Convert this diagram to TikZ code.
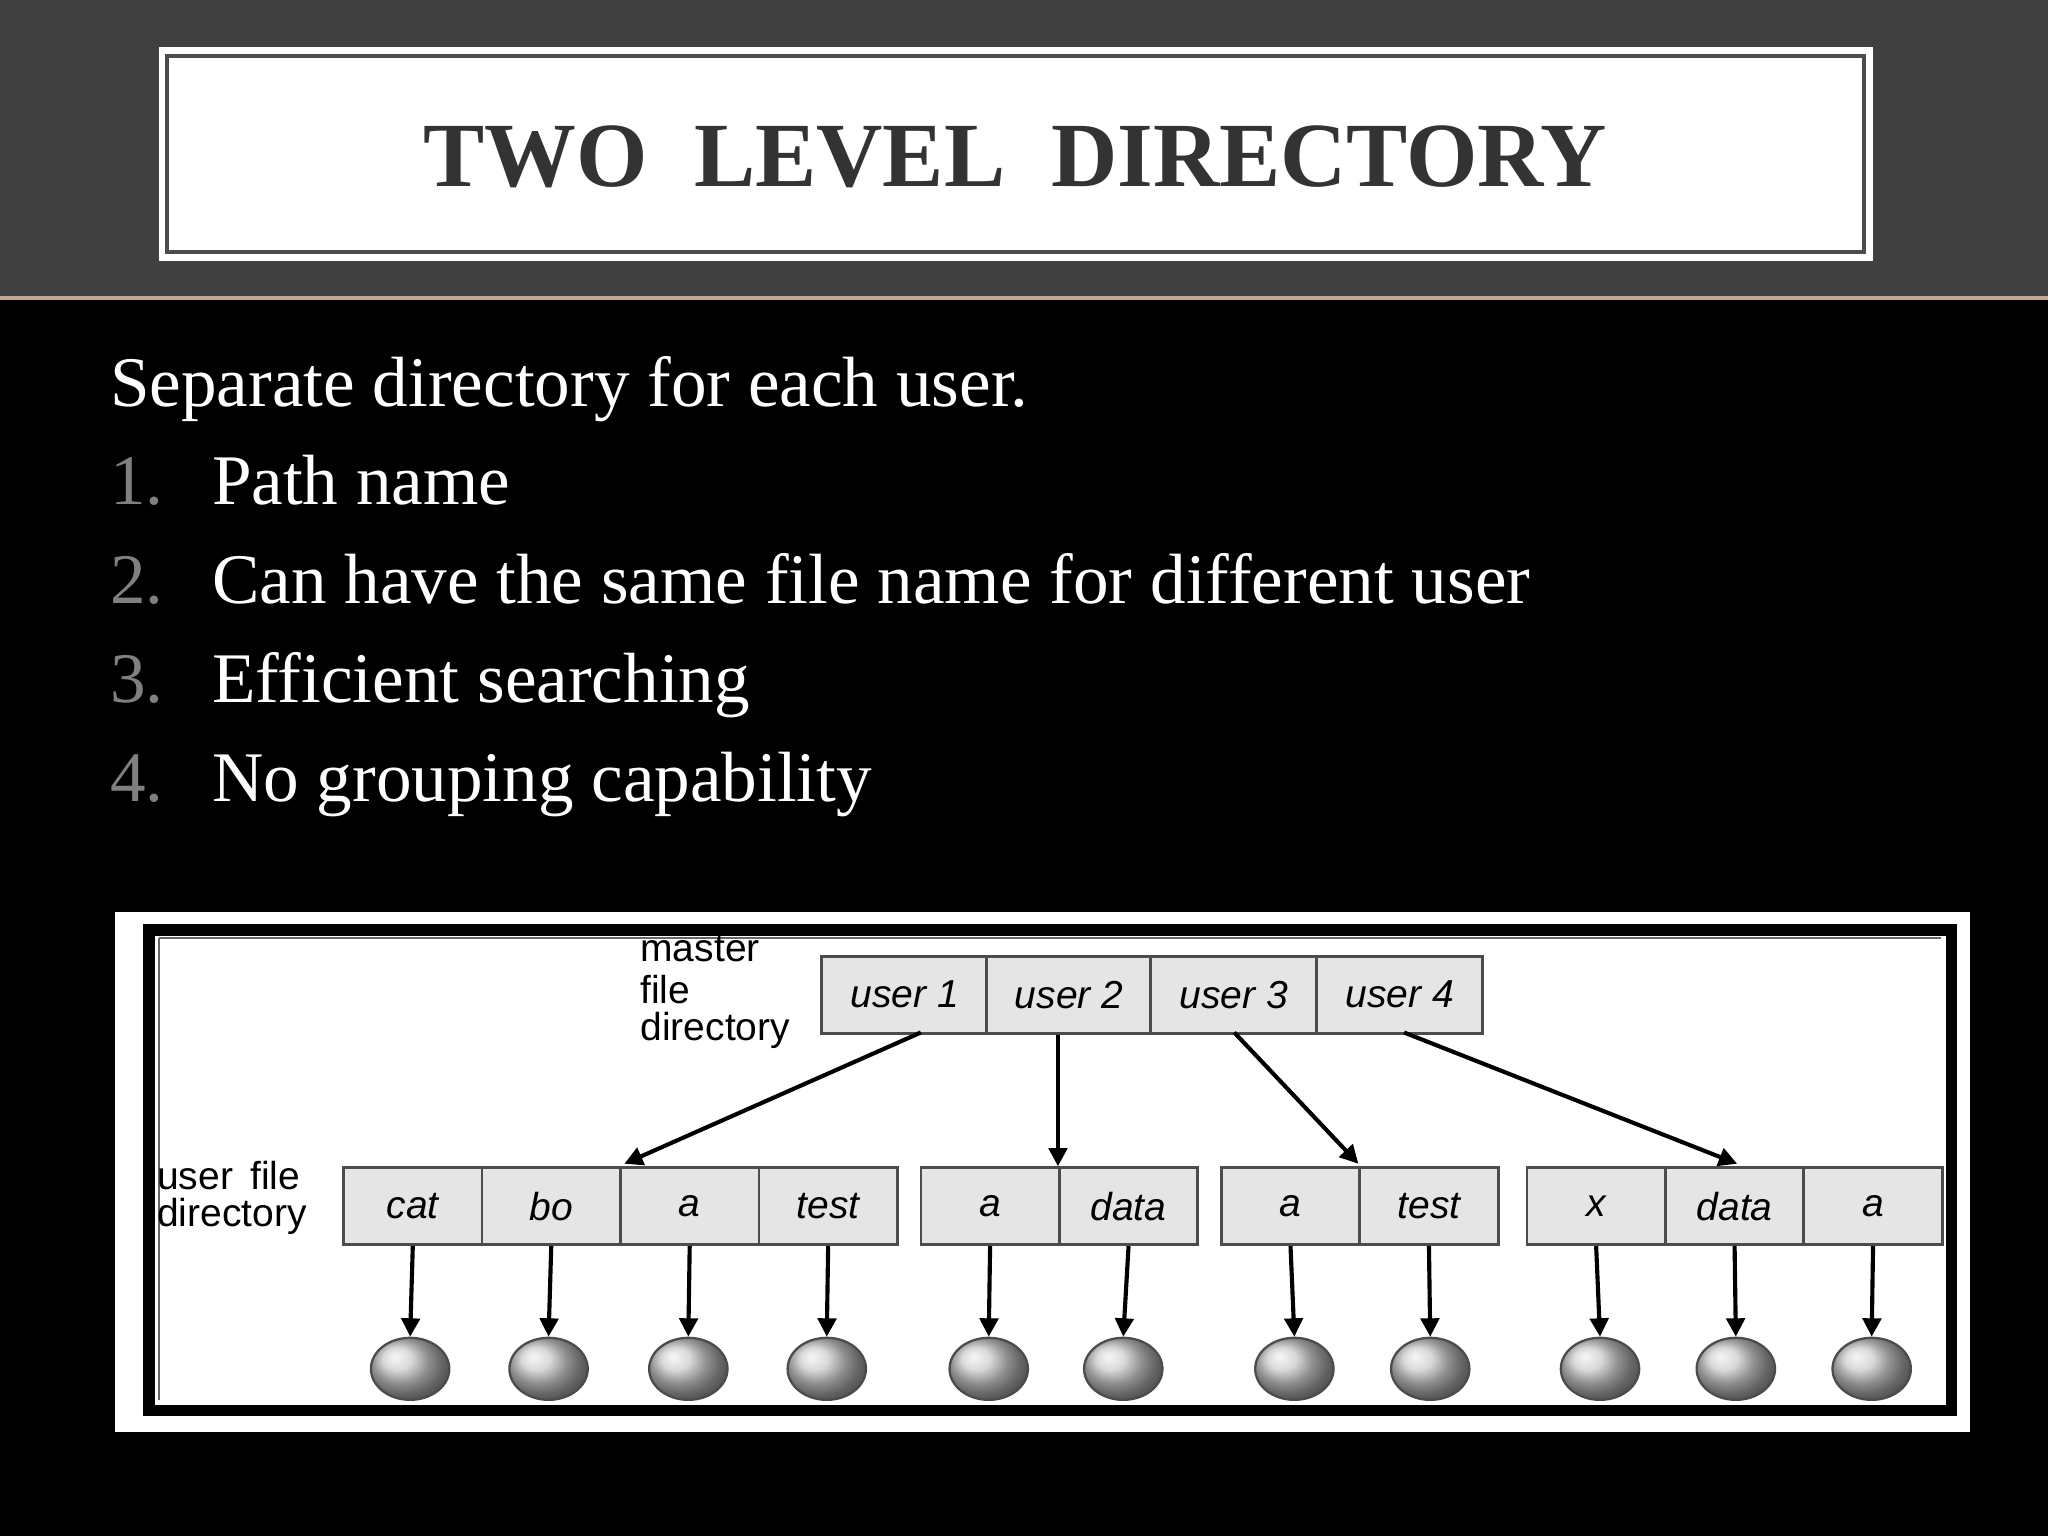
\documentclass[tikz,border=0pt]{standalone}
\usepackage{fontspec}
\setmainfont{Liberation Serif}
\setsansfont{Liberation Sans}
\usetikzlibrary{arrows.meta}
\tikzset{
 cell/.style={draw=black!70,line width=1.2pt,fill=black!10,minimum height=1.18cm,inner sep=0pt,font=\sffamily\itshape\fontsize{17}{17}\selectfont},
 arr/.style={-{Triangle[length=8pt,width=8pt]},line width=1.8pt},
 blob/.style={ellipse,draw=black!70,line width=1pt,ball color=black!20,minimum width=1.2cm,minimum height=0.95cm,inner sep=0pt},
 lbl/.style={font=\sffamily\fontsize{17}{19}\selectfont,anchor=west,inner sep=0pt},
 item/.style={anchor=base west,inner sep=0pt,text=white,font=\fontsize{31}{31}\selectfont},
 num/.style={anchor=base west,inner sep=0pt,text=black!50,font=\fontsize{31}{31}\selectfont}
}
\usetikzlibrary{shapes.geometric}
\begin{document}
\begin{tikzpicture}[x=0.02cm,y=-0.02cm]
\useasboundingbox (0,0) rectangle (1568,1176);
\fill[black] (0,0) rectangle (1568,1176);
\fill[black!75] (0,0) rectangle (1568,228);
\draw[color={rgb,255:red,190;green,170;blue,140},line width=2pt] (0,228) -- (1568,228);
\node[draw=white,line width=2pt,fill=white,minimum width=26.18cm,minimum height=3.2cm] (tb) at (777.5,118) {};
\draw[black!70,line width=1.5pt] (128,43) rectangle (1427,193);
\node[text=black!80,font=\bfseries\fontsize{40}{40}\selectfont] (title) at (777.5,120) {TWO\enspace LEVEL\enspace DIRECTORY};
\node[item] (t0) at (84,311) {Separate directory for each user.};
\node[num] (n1) at (84,386) {1.}; \node[item] (i1) at (162,386) {Path name};
\node[num] (n2) at (84,462) {2.}; \node[item] (i2) at (162,462) {Can have the same file name for different user};
\node[num] (n3) at (84,538) {3.}; \node[item] (i3) at (162,538) {Efficient searching};
\node[num] (n4) at (84,614) {4.}; \node[item] (i4) at (162,614) {No grouping capability};
% diagram
\fill[white] (88,698) rectangle (1508,1096);
\draw[black,line width=5pt] (114,712) rectangle (1494,1080);
\draw[black!60,line width=1pt] (122,718) -- (1486,718);
\draw[black!60,line width=1pt] (122,718) -- (122,1072);
\begin{scope}
\clip (118,716) rectangle (1490,1076);
\node[lbl] (m1) at (490,727) {master};
\node[lbl] (m2) at (490,758) {file};
\node[lbl] (m3) at (490,789) {directory};
\node[lbl] (u1) at (120,900) {user\, file};
\node[lbl] (u2) at (120,931) {directory};
% master cells
\foreach \x/\t/\n in {628/user 1/U1,754/user 2/U2,880/user 3/U3,1007/user 4/U4}
  \node[cell,minimum width=2.54cm,anchor=north west] (\n) at (\x,731) {\t};
% file cells
\foreach \x/\t/\n in {262/cat/F1,368/bo/F2,474/a/F3,580/test/F4,704/a/F5,810/data/F6,934/a/F7,1040/test/F8,1168/x/F9,1274/data/F10,1380/a/F11}
  \node[cell,minimum width=2.12cm,anchor=north west] (\n) at (\x,893) {\t};
\foreach \x/\n in {314/1,420/2,527/3,633/4,757/5,860/6,991/7,1095/8,1225/9,1329/10,1433/11}{
  \node[blob] (B\n) at (\x,1048) {};
  \draw[arr] (F\n.south) -- (B\n.north);
}
\coordinate (a1) at (705,790.5); \coordinate (e1) at (478,891);
\coordinate (a3) at (945,790.5); \coordinate (e3) at (1040,891);
\coordinate (a4) at (1075,790.5); \coordinate (e4) at (1330,891);
\draw[arr] (a1) -- (e1);
\draw[arr] (U2.south -| 810,0) -- (F6.north west);
\draw[arr] (a3) -- (e3);
\draw[arr] (a4) -- (e4);
\end{scope}
\end{tikzpicture}
\end{document}
